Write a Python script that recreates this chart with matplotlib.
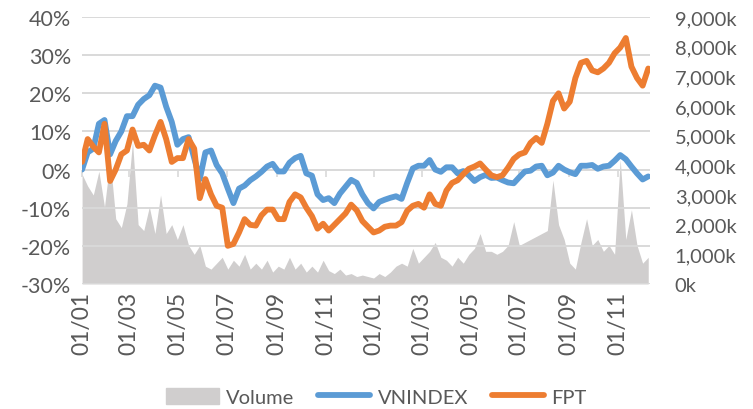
import numpy as np
import pandas as pd
import matplotlib
matplotlib.use("Agg")
import matplotlib.pyplot as plt
import matplotlib.dates as mdates
import matplotlib.ticker as mticker
from matplotlib.patches import Patch
from matplotlib.lines import Line2D

plt.rcParams['font.family'] = ['Lato', 'DejaVu Sans']

# weekly samples, 2018-01-01 .. 2019-12
dates = pd.date_range('2018-01-01', periods=102, freq='7D')

# VNINDEX, % change from start (weekly)
vnindex = [0, 4.5, 5.5, 12, 13, 4, 7.5, 10, 14, 14,
           17, 18.5, 19.5, 22, 21.5, 16.5, 12.5, 6.5, 8, 8.5,
           3, -2.5, 4.5, 5, 1.2, -1, -5, -8.8, -5, -4.2,
           -2.8, -1.8, -0.6, 0.8, 1.5, -0.5, -0.5, 1.8, 3, 3.6,
           -1, -1.6, -6.5, -8, -7.5, -8.8, -6.3, -4.5, -2.7, -3.5,
           -6.5, -8.8, -10.2, -8.5, -7.9, -7.4, -7, -7.7, -3.5, 0.3,
           1, 1, 2.5, 0, -0.6, 0.6, 0.6, -1, -0.4, -1.5,
           -3, -2, -1.4, -2.2, -2.1, -2.8, -3.4, -3.6, -2, -0.5,
           -0.3, 0.8, 1, -1.5, -0.8, 1, 0, -0.7, -1.2, 1,
           1, 1.2, 0.2, 0.8, 1, 2.3, 3.8, 2.7, 0.8, -1,
           -2.6, -1.8]

# FPT, % change from start (weekly)
fpt = [2, 8, 6, 4.5, 12, -3, 0, 4, 5, 10.5,
       6.2, 6.5, 5, 9, 12.5, 8, 2, 3, 3, 8,
       5.5, -7.5, -2.5, -6.5, -9.5, -10, -20, -19.5, -16.5, -13,
       -14.5, -14.7, -12, -10.5, -10.5, -13, -13, -8.5, -6.5, -7.3,
       -10, -12.2, -15.5, -14.2, -16, -14.5, -13, -11.5, -9.2, -10.7,
       -13.5, -15, -16.5, -16, -15, -14.7, -14.7, -13.8, -10.8, -9.5,
       -9, -10, -6.5, -9, -9.5, -5.5, -3.5, -2.8, -1.2, 0.2,
       0.8, 1.6, 0, -1.5, -2, -1.5, 0.5, 2.8, 4, 4.5,
       7, 8.3, 7, 12, 18, 20, 16, 17.8, 24, 28,
       28.5, 26, 25.5, 26.5, 28, 30.5, 32, 34.5, 27, 24,
       22, 26.5]

# volume, thousands of shares (weekly)
volume = [3700, 3300, 3000, 3800, 2600, 4200, 2200, 1900, 2700, 4800,
          2000, 1800, 2600, 1700, 3000, 1700, 2000, 1500, 2000, 1300,
          1000, 1300, 600, 500, 700, 900, 500, 800, 600, 1000,
          500, 700, 500, 800, 400, 600, 500, 900, 500, 700,
          400, 600, 400, 800, 450, 350, 500, 300, 350, 250,
          300, 250, 200, 350, 250, 400, 600, 700, 600, 1200,
          700, 900, 1100, 1400, 900, 800, 600, 900, 700, 1000,
          1200, 1700, 1100, 1100, 1000, 1100, 1300, 2100, 1300, 1400,
          1500, 1600, 1700, 1800, 3500, 2000, 1500, 700, 500, 1400,
          2200, 1300, 1500, 1100, 1300, 1000, 4200, 1500, 2500, 1300,
          700, 900]

vnindex = np.array(vnindex) / 100
fpt = np.array(fpt) / 100

text_col = '#595959'
grid_col = '#D9D9D9'
blue = '#5B9BD5'
orange = '#ED7D31'
gray = '#D0CECE'

fig = plt.figure(figsize=(7.53, 4.10), dpi=100)
ax = fig.add_axes([0.109, 0.305, 0.754, 0.651])
ax2 = ax.twinx()

# volume behind, on the right axis
ax2.fill_between(dates, volume, 0, color=gray, linewidth=0)
ax2.set_ylim(0, 9000)
ax2.yaxis.set_major_locator(mticker.MultipleLocator(1000))
ax2.yaxis.set_major_formatter(mticker.FuncFormatter(lambda v, p: '{:,.0f}k'.format(v)))

ax.set_zorder(ax2.get_zorder() + 1)
ax.patch.set_visible(False)

ax.plot(dates, vnindex, color=blue, lw=4.2, solid_capstyle='round', solid_joinstyle='round')
ax.plot(dates, fpt, color=orange, lw=4.2, solid_capstyle='round', solid_joinstyle='round')

ax.set_ylim(-0.3, 0.4)
ax.yaxis.set_major_locator(mticker.MultipleLocator(0.1))
ax.yaxis.set_major_formatter(mticker.FuncFormatter(lambda v, p: '{:.0f}%'.format(v * 100)))
ax.grid(axis='y', color=grid_col, lw=1.4)
ax.set_axisbelow(True)

ax.set_xlim(pd.Timestamp('2018-01-01'), pd.Timestamp('2019-12-11'))
ax.xaxis.set_major_locator(mdates.MonthLocator(bymonth=[1, 3, 5, 7, 9, 11]))
ax.xaxis.set_major_formatter(mdates.DateFormatter('%d/%m'))

for a in (ax, ax2):
    for s in a.spines.values():
        s.set_visible(False)
    a.tick_params(length=0, labelsize=14.5, labelcolor=text_col)
ax.tick_params(axis='x', rotation=90, pad=5, labelsize=16.5)
ax.tick_params(axis='y', pad=8, labelsize=15.5)
ax2.tick_params(axis='y', pad=18)

# small tick marks where the category axis crosses 0%
sec = ax.secondary_xaxis(0.3 / 0.7)
sec.xaxis.set_major_locator(mdates.MonthLocator(bymonth=[1, 3, 5, 7, 9, 11]))
sec.tick_params(length=5, width=1.2, color=grid_col, labelbottom=False, labeltop=False, direction='out')
sec.spines['bottom'].set_visible(False)
sec.spines['top'].set_visible(False)
sec.set_xticklabels([])

handles = [Patch(color=gray, label='Volume'),
           Line2D([], [], color=blue, lw=4.2, solid_capstyle='round', label='VNINDEX'),
           Line2D([], [], color=orange, lw=4.2, solid_capstyle='round', label='FPT')]
leg = fig.legend(handles=handles, loc='center', bbox_to_anchor=(0.5, 0.03), ncol=3,
                 frameon=False, fontsize=14.5, handlelength=2.6, handleheight=0.9,
                 handletextpad=0.35, columnspacing=1.2)
for t in leg.get_texts():
    t.set_color(text_col)

fig.savefig('out.png', dpi=100)
